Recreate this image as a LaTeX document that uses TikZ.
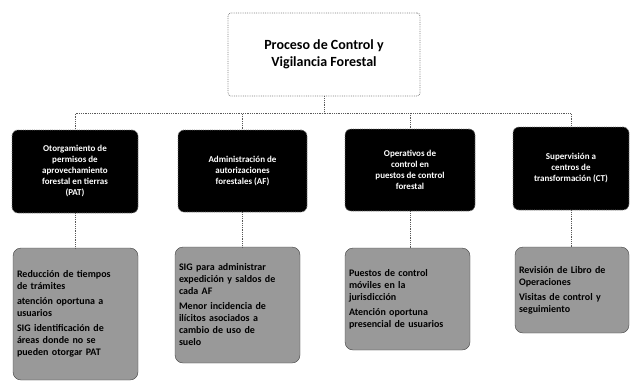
\documentclass[tikz,border=0pt]{standalone}
\usepackage{fontspec}
\setmainfont{Carlito}

\begin{document}
\begin{tikzpicture}
  [x=1pt,y=-1pt,
   topbox/.style={draw=gray,densely dotted,thick,fill=white,rounded corners=3pt,align=center,font=\bfseries\fontsize{14}{17}\selectfont},
   darkbox/.style={draw=gray,densely dotted,thick,fill=black,text=white,rounded corners=6pt,align=center,inner sep=4pt,font=\bfseries\fontsize{9}{11}\selectfont},
   greybox/.style={draw=black!75,fill=black!40,rounded corners=8pt,align=left,inner sep=4pt,font=\bfseries\fontsize{10}{12}\selectfont},
   link/.style={draw=black!65,densely dotted,thick}]
  \useasboundingbox (0,0) rectangle (631,383);

  \node[topbox,minimum width=192pt,minimum height=83pt] (top) at (324,54.5) {Proceso de Control y\\Vigilancia Forestal};

  \node[darkbox,minimum width=126pt,minimum height=83pt] (a1) at (75,171.5) {Otorgamiento de\\permisos de\\aprovechamiento\\forestal en tierras\\(PAT)};
  \node[darkbox,minimum width=129pt,minimum height=82pt] (a2) at (242.5,171) {Administración de\\autorizaciones\\forestales (AF)};
  \node[darkbox,minimum width=130pt,minimum height=82pt] (a3) at (410,170) {Operativos de\\control en\\puestos de control\\forestal};
  \node[darkbox,minimum width=116pt,minimum height=83pt] (a4) at (571,168.5) {Supervisión a\\centros de\\transformación (CT)};

  \node[greybox,text width=117pt,minimum height=132pt] (b1) at (75.5,314) {Reducción de tiempos\\de trámites\\[3pt]atención oportuna a\\usuarios\\[3pt]SIG identificación de\\áreas donde no se\\pueden otorgar PAT};
  \node[greybox,text width=117pt,minimum height=116pt] (b2) at (237.5,305) {SIG para administrar\\expedición y saldos de\\cada AF\\[3pt]Menor incidencia de\\ilícitos asociados a\\cambio de uso de\\suelo};
  \node[greybox,text width=117pt,minimum height=102pt] (b3) at (407.5,299) {Puestos de control\\móviles en la\\jurisdicción\\[3pt]Atención oportuna\\presencial de usuarios};
  \node[greybox,text width=106pt,minimum height=86pt] (b4) at (572,290) {Revisión de Libro de\\Operaciones\\[3pt]Visitas de control y\\seguimiento};

  \foreach \n in {a1,a2,a3,a4}
    \draw[link] (top.south) -- ++(0,17) -| (\n.north);
  \foreach \n/\m in {a1/b1,a2/b2,a3/b3,a4/b4}
    \draw[link] (\n.south) -- (\n.south |- \m.north);

\end{tikzpicture}
\end{document}
